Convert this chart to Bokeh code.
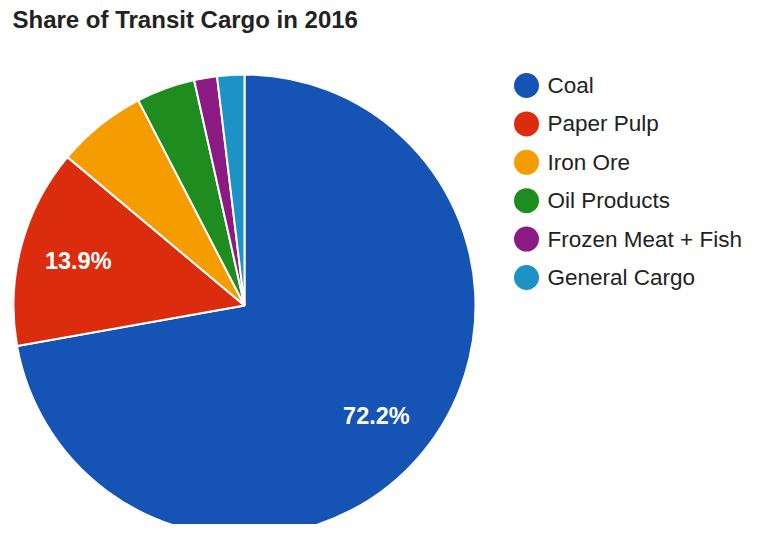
import math
from bokeh.plotting import figure
from bokeh.models import Range1d, ColumnDataSource
from bokeh.core.properties import value
from bokeh.embed import file_html
from bokeh.resources import INLINE

# ---- data ----
categories = ["Coal", "Paper Pulp", "Iron Ore", "Oil Products", "Frozen Meat + Fish", "General Cargo"]
shares = [72.2, 13.9, 6.3, 4.1, 1.6, 1.9]
colors = ["#1553b5", "#dc2c0e", "#f59d00", "#1f8c1f", "#8b1a82", "#1c93c4"]
label_min_share = 10.0
title_text = "Share of Transit Cargo in 2016"

W, H = 748, 524
p = figure(width=W, height=H, output_backend="svg", toolbar_location=None,
           x_range=Range1d(0, W), y_range=Range1d(0, H), min_border=0)
p.axis.visible = False
p.grid.visible = False
p.outline_line_color = None
p.background_fill_color = "white"
p.border_fill_color = "white"

cx, cy, r = 244, 219, 231
total = sum(shares)
starts, ends, lx, ly, ltxt = [], [], [], [], []
cum = 0.0
for s in shares:
    a0 = math.pi / 2 - 2 * math.pi * cum / total
    cum += s
    a1 = math.pi / 2 - 2 * math.pi * cum / total
    starts.append(a0)
    ends.append(a1)
    mid = (a0 + a1) / 2
    if s >= label_min_share:
        lx.append(cx + 0.745 * r * math.cos(mid))
        ly.append(cy + 0.745 * r * math.sin(mid))
        ltxt.append(f"{s:.1f}%")

src = ColumnDataSource(dict(start=starts, end=ends, color=colors, cat=categories))
p.wedge(x=cx, y=cy, radius=r, start_angle="start", end_angle="end", direction="clock",
        fill_color="color", line_color="white", line_width=2, source=src)

p.text(x=lx, y=ly, text=ltxt, text_color="white", text_font=value("Liberation Sans"),
       text_font_style="bold", text_font_size="23.5px", text_align="center", text_baseline="middle")

# title
p.text(x=[12], y=[505], text=[title_text], text_color="#222222", text_font=value("Liberation Sans"),
       text_font_style="bold", text_font_size="24px", text_align="left", text_baseline="middle")

# legend
leg_y = [439 - 38.4 * i for i in range(len(categories))]
p.scatter(x=[526] * len(categories), y=leg_y, size=25, fill_color=colors, line_color=None)
p.text(x=[547] * len(categories), y=leg_y, text=categories, text_color="#222222",
       text_font=value("Liberation Sans"), text_font_size="22.5px",
       text_align="left", text_baseline="middle")

open("out.html", "w").write(file_html(p, INLINE))
